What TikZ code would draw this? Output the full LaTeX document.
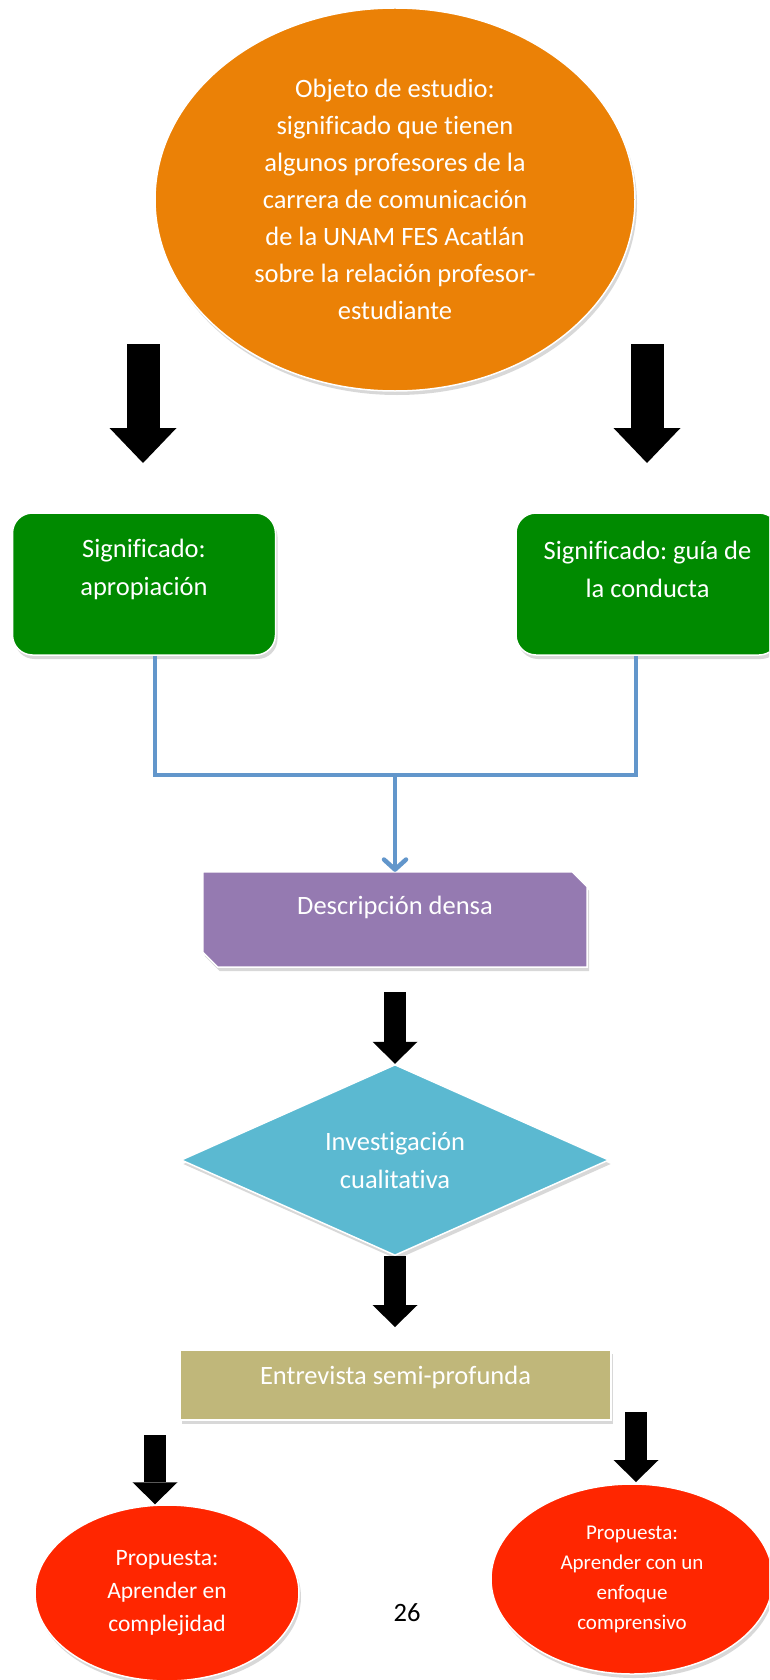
\documentclass[tikz,border=0pt]{standalone}
\usepackage{fontspec}
\setmainfont{Carlito}[Ligatures=NoCommon]
\usetikzlibrary{shapes.geometric,arrows.meta,shadows}

\definecolor{ovalorange}{HTML}{EB8106}
\definecolor{boxgreen}{HTML}{008A00}
\definecolor{linkblue}{HTML}{6296CB}
\definecolor{boxpurple}{HTML}{957AB1}
\definecolor{diacyan}{HTML}{5BB9D1}
\definecolor{boxkhaki}{HTML}{C0B77A}
\definecolor{ovalred}{HTML}{FF2600}

\tikzset{
  shape base/.style={draw=white, line width=1.5pt, inner sep=0pt,
    drop shadow={shadow xshift=2pt, shadow yshift=-4pt, opacity=.3}},
  oval/.style={shape base, ellipse},
  sigbox/.style={shape base, rectangle, rounded corners=20pt, fill=boxgreen,
    minimum width=263pt, minimum height=142pt},
  whitetext/.style={text=white, align=center},
  big arrow/.style={line width=33pt, -{Triangle[width=67pt,length=35pt,line width=0pt]}},
  small arrow/.style={line width=22pt, -{Triangle[width=45pt,length=22pt,line width=0pt]}},
  link/.style={draw=linkblue, line width=4.5pt},
}
\frenchspacing

\begin{document}
\begin{tikzpicture}[x=1pt, y=-1pt,
  every node/.style={font=\fontsize{26.5}{38}\selectfont}]

  \useasboundingbox (0,0) rectangle (769,1680);
  \clip (0,0) rectangle (769,1680);
  \fill[white] (0,0) rectangle (769,1680);

  % Oval with the object of study.
  \node[oval, fill=ovalorange, minimum width=480pt, minimum height=383pt, whitetext,
    font=\fontsize{26.5}{37}\selectfont] (obj) at (395,199.5)
    {Objeto de estudio:\\significado que tienen\\algunos profesores de la\\carrera de comunicación\\de la UNAM FES Acatlán\\sobre la relación profesor-\\estudiante};

  % Two meanings.
  \node[sigbox] (apr) at (144,584) {};
  \node[whitetext] (apr-t) at (144,569) {Significado:\\apropiación};
  \node[sigbox] (gui) at (647.5,584) {};
  \node[whitetext] (gui-t) at (647.5,569) {Significado: guía de\\la conducta};

  % Dense description, two snipped corners.
  \node[inner sep=0pt, minimum width=384pt, minimum height=95pt] (dd) at (395,919.5) {};
  \draw[shape base, fill=boxpurple] (dd.north west) -- ([xshift=-15pt]dd.north east)
    -- ([yshift=-15pt]dd.north east) -- (dd.south east) -- ([xshift=15pt]dd.south west)
    -- ([yshift=15pt]dd.south west) -- cycle;
  \node[whitetext] (dd-t) at (395,907) {Descripción densa};

  % Diamond.
  \node[shape base, diamond, shape aspect=2.2, fill=diacyan, minimum width=428pt,
    minimum height=191pt, whitetext] (inv) at (395,1160) {Investigación\\cualitativa};

  % Interview.
  \node[shape base, rectangle, fill=boxkhaki, minimum width=431pt, minimum height=70pt] (ent) at (395.5,1385) {};
  \node[whitetext] (ent-t) at (395.5,1377) {Entrevista semi-profunda};

  % Two proposals.
  \node[oval, fill=ovalred, minimum width=264pt, minimum height=176pt, whitetext,
    font=\fontsize{23.5}{33}\selectfont] (p1) at (167,1593) {Propuesta:\\Aprender en\\complejidad};
  \node[oval, fill=ovalred, minimum width=282pt, minimum height=190pt, whitetext,
    font=\fontsize{21}{30}\selectfont] (p2) at (632,1579) {Propuesta:\\Aprender con un\\enfoque\\comprensivo};

  % Page number.
  \node (pg) at (407,1613) {26};

  % Black arrows.
  \coordinate (la) at (143,344);
  \coordinate (lb) at (143,463);
  \coordinate (ra) at (647,344);
  \coordinate (rb) at (647,463);
  \draw[big arrow] (la) -- (lb);
  \draw[big arrow] (ra) -- (rb);

  \coordinate (ma) at (395,992);
  \coordinate (mb) at (395,1327);
  \draw[small arrow] (ma) -- (inv.north);
  \draw[small arrow] (inv.south) -- (mb);

  \coordinate (ba) at (155,1435);
  \coordinate (ca) at (636,1412);
  \coordinate (cb) at (636,1482);
  \draw[small arrow] (ba) -- (ba |- p1.north);
  \draw[small arrow] (ca) -- (cb);

  % Blue connector.
  \coordinate (jl) at (155,775);
  \coordinate (jr) at (636,775);
  \coordinate (jm) at (395,775);
  \draw[link] (apr.south -| jl) -- (jl) -- (jr) -- (gui.south -| jr);
  \draw[link, -{Straight Barb[length=10pt,width=22pt,round]}] (jm) -- (dd.north);

\end{tikzpicture}
\end{document}
